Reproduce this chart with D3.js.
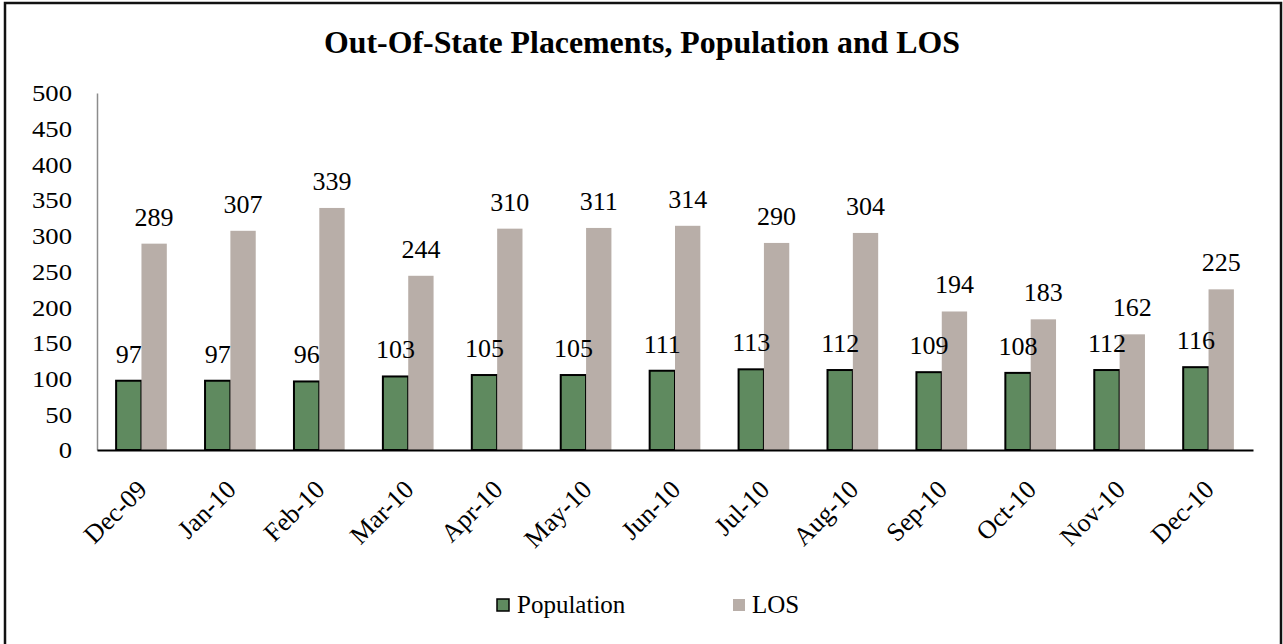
<!DOCTYPE html>
<html>
<head>
<meta charset="utf-8">
<script src="https://cdn.jsdelivr.net/npm/d3@7"></script>
<style>
  body { margin: 0; background: #fff; }
  svg, svg text { font-family: "Liberation Serif", "Times New Roman", serif !important; }
</style>
</head>
<body>
<svg id="chart" width="1283" height="644"></svg>
<script>
var months = ["Dec-09", "Jan-10", "Feb-10", "Mar-10", "Apr-10", "May-10", "Jun-10",
              "Jul-10", "Aug-10", "Sep-10", "Oct-10", "Nov-10", "Dec-10"];
var population = [97, 97, 96, 103, 105, 105, 111, 113, 112, 109, 108, 112, 116];
var los = [289, 307, 339, 244, 310, 311, 314, 290, 304, 194, 183, 162, 225];
var seriesNames = ["Population", "LOS"];
var yTicks = [0, 50, 100, 150, 200, 250, 300, 350, 400, 450, 500];

var colors = { Population: "#5f8a5f", LOS: "#b8aea8" };

var svg = d3.select("#chart");

// outer frame
svg.append("rect")
    .attr("x", 5).attr("y", 3)
    .attr("width", 1276).attr("height", 660)
    .attr("fill", "none").attr("stroke", "#111").attr("stroke-width", 2.5);

// title
svg.append("text")
    .attr("x", 642).attr("y", 53)
    .attr("text-anchor", "middle")
    .attr("font-weight", "bold")
    .style("font-size", "32px")
    .attr("textLength", 636)
    .attr("lengthAdjust", "spacingAndGlyphs")
    .text("Out-Of-State Placements, Population and LOS");

var x0 = d3.scaleBand().domain(months).range([97, 1253])
    .paddingInner(0.43).paddingOuter(0.215);
var x1 = d3.scaleBand().domain(seriesNames).range([0, x0.bandwidth()]);
var y = d3.scaleLinear().domain([0, 500]).range([450, 93]);

var rows = months.map(function(m, i) {
    return { month: m, values: [
        { key: "Population", v: population[i] },
        { key: "LOS", v: los[i] }
    ]};
});

// y axis
var yAxis = svg.append("g")
    .attr("transform", "translate(97,0)")
    .call(d3.axisLeft(y).tickValues(yTicks).tickSize(0).tickPadding(0));
yAxis.attr("font-family", null);
yAxis.select(".domain").attr("stroke", "#8c8c8c").attr("stroke-width", 1.5);
yAxis.selectAll(".tick text")
    .style("font-size", "23px")
    .attr("fill", "#000")
    .attr("x", 0)
    .attr("dy", "0.34em")
    .attr("transform", "translate(-25,0) scale(1.16,1)");

// bars
var groups = svg.selectAll("g.grp")
    .data(rows).enter().append("g")
    .attr("class", "grp")
    .attr("transform", function(d) { return "translate(" + x0(d.month) + ",0)"; });

groups.selectAll("rect")
    .data(function(d) { return d.values; })
    .enter().append("rect")
    .attr("x", function(d) { return x1(d.key); })
    .attr("y", function(d) { return y(d.v); })
    .attr("width", x1.bandwidth())
    .attr("height", function(d) { return y(0) - y(d.v); })
    .attr("fill", function(d) { return colors[d.key]; })
    .attr("stroke", function(d) { return d.key == "Population" ? "#000" : "none"; })
    .attr("stroke-width", 2);

// x axis
var xAxis = svg.append("g")
    .attr("transform", "translate(0,450)")
    .call(d3.axisBottom(x0).tickSize(0).tickPadding(0));
xAxis.attr("font-family", null);
xAxis.select(".domain").attr("stroke", "#000").attr("stroke-width", 2);
xAxis.selectAll(".tick text")
    .style("font-size", "26px")
    .attr("fill", "#000")
    .attr("text-anchor", "end")
    .attr("y", 0).attr("dy", 0)
    .attr("transform", "translate(7,41) rotate(-45)");

// data labels
groups.selectAll("text.lbl")
    .data(function(d) { return d.values; })
    .enter().append("text")
    .attr("class", "lbl")
    .attr("x", function(d) { return x1(d.key) + x1.bandwidth() / 2; })
    .attr("y", function(d) { return y(d.v) - 18; })
    .attr("text-anchor", "middle")
    .style("font-size", "26px")
    .text(function(d) { return d.v; });

// legend
var legend = svg.append("g");
var legendX = [497, 733];
seriesNames.forEach(function(name, i) {
    legend.append("rect")
        .attr("x", legendX[i]).attr("y", 599)
        .attr("width", 12).attr("height", 12)
        .attr("fill", colors[name])
        .attr("stroke", name == "Population" ? "#000" : "none")
        .attr("stroke-width", 1.5);
    legend.append("text")
        .attr("x", legendX[i] + (i == 0 ? 20 : 19)).attr("y", 613)
        .style("font-size", "25px")
        .text(name);
});
</script>
</body>
</html>
